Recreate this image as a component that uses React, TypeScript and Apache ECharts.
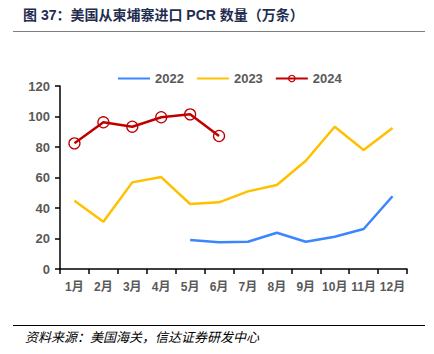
import React, { useEffect, useRef } from "react";
import * as echarts from "echarts";

const months = ["1月", "2月", "3月", "4月", "5月", "6月", "7月", "8月", "9月", "10月", "11月", "12月"];
const s2022 = [null, null, null, null, 19, 17.5, 17.9, 23.8, 17.9, 21.2, 26.2, 47.7];
const s2023 = [44.8, 31, 56.8, 60.3, 42.6, 43.7, 50.9, 55.1, 71, 93.3, 78, 92.5];
const s2024 = [82.4, 96.2, 93.3, 99.5, 101.4, 87.2, null, null, null, null, null, null];
const yTicks = [0, 20, 40, 60, 80, 100, 120];

const titleText = "图 37：美国从柬埔寨进口 PCR 数量（万条）";
const sourceText = "资料来源：美国海关，信达证券研发中心";

export default function App() {
  const ref = useRef<HTMLDivElement>(null);
  useEffect(() => {
    const chart = echarts.init(ref.current!, null, { renderer: "svg" });
    const labelFont = { color: "#595959", fontWeight: "bold" as const, fontSize: 13, fontFamily: "Liberation Sans, Noto Sans CJK SC" };
    chart.setOption({
      animation: false,
      backgroundColor: "#fff",
      graphic: [
        {
          type: "text",
          left: 23,
          top: 8,
          style: { text: titleText, fill: "#1f2d50", font: "bold 14px 'Liberation Sans', 'Noto Sans CJK SC'" },
        },
        { type: "line", shape: { x1: 13, y1: 31.5, x2: 425, y2: 31.5 }, style: { stroke: "#7f7f7f", lineWidth: 1 } },
        { type: "line", shape: { x1: 13, y1: 325.5, x2: 425, y2: 325.5 }, style: { stroke: "#000", lineWidth: 1 } },
        {
          type: "text",
          left: 25,
          top: 330,
          style: { text: sourceText, fill: "#000", font: "italic 13px 'Noto Sans CJK SC'" },
        },
      ],
      legend: {
        top: 67,
        left: 112,
        itemWidth: 32,
        itemHeight: 8,
        itemGap: 12,
        textStyle: { ...labelFont, fontSize: 13 },
        data: [
          { name: "2022", itemStyle: { opacity: 0 } },
          { name: "2023", itemStyle: { opacity: 0 } },
          { name: "2024", itemStyle: { borderWidth: 1.2 } },
        ],
      },
      grid: { left: 60, right: 27, top: 86, bottom: 85, containLabel: false },
      xAxis: {
        type: "category",
        data: months,
        boundaryGap: true,
        axisLine: { lineStyle: { color: "#000", width: 1.5 } },
        axisTick: { show: true, alignWithLabel: false, length: 5, lineStyle: { color: "#000", width: 1.5 } },
        axisLabel: { ...labelFont, fontSize: 12, margin: 12, interval: 0 },
      },
      yAxis: {
        type: "value",
        min: yTicks[0],
        max: yTicks[yTicks.length - 1],
        interval: 20,
        splitLine: { show: false },
        axisLine: { show: true, lineStyle: { color: "#000", width: 1.5 } },
        axisTick: { show: true, length: 5, lineStyle: { color: "#000", width: 1.5 } },
        axisLabel: { ...labelFont, fontSize: 13, margin: 10 },
      },
      series: [
        {
          name: "2022",
          type: "line",
          data: s2022,
          symbol: "none",
          lineStyle: { color: "#3a86ff", width: 2.5 },
          itemStyle: { color: "#3a86ff" },
        },
        {
          name: "2023",
          type: "line",
          data: s2023,
          symbol: "none",
          lineStyle: { color: "#ffc000", width: 2.5 },
          itemStyle: { color: "#ffc000" },
        },
        {
          name: "2024",
          type: "line",
          data: s2024,
          symbol: "circle",
          symbolSize: 11,
          showAllSymbol: true,
          lineStyle: { color: "#c00000", width: 2.5 },
          itemStyle: { color: "rgba(255,255,255,0)", borderColor: "#c00000", borderWidth: 1.3 },
        },
      ],
    });
    return () => chart.dispose();
  }, []);
  return <div ref={ref} style={{ width: 434, height: 354, position: "absolute", left: 0, top: 0 }} />;
}
